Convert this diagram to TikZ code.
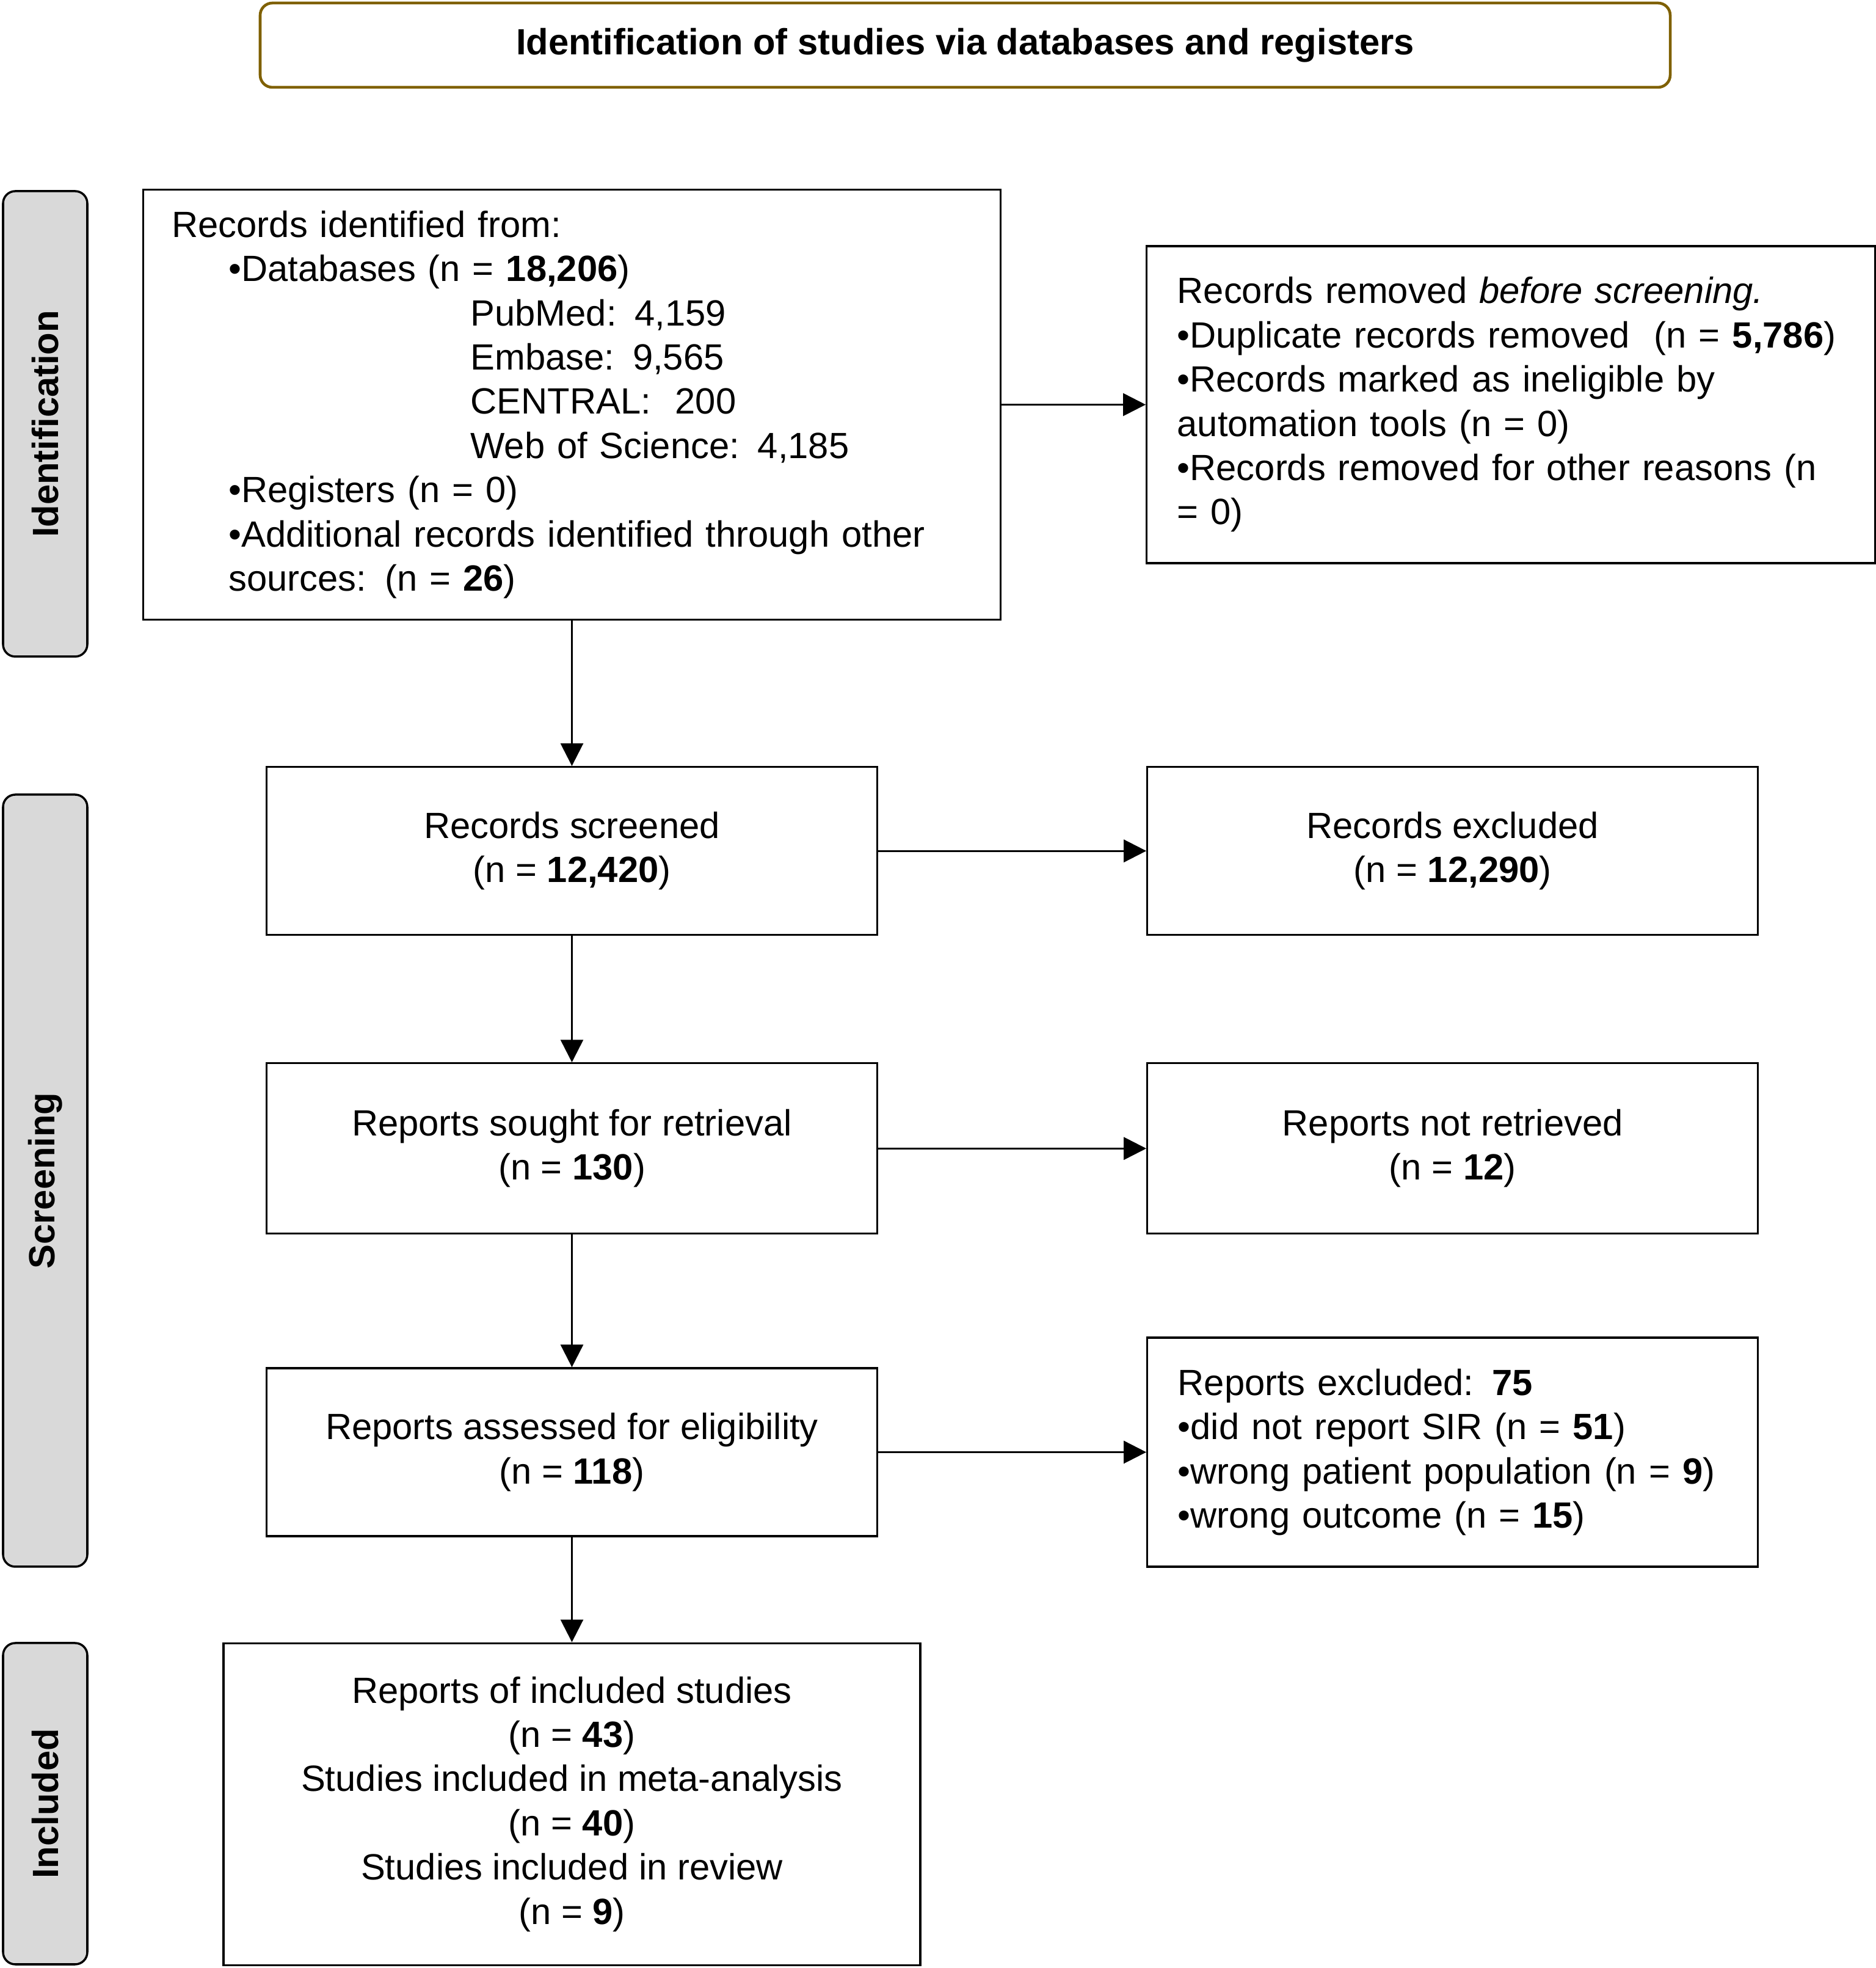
\documentclass[tikz,border=0pt]{standalone}
\usepackage{fontspec}
\setmainfont{Liberation Sans}
\usetikzlibrary{arrows.meta, positioning}
\definecolor{headerbrown}{RGB}{127,96,0}
\definecolor{stagegrey}{RGB}{217,217,217}
\newcommand*{\bodyfont}{\fontsize{17}{20.6}\selectfont}
\tikzstyle{block} = [draw, rectangle, line width=0.9pt, inner sep=0pt, font=\bodyfont]
\tikzstyle{box} = [block, minimum width=10.0cm, minimum height=2.75cm, align=center]
\tikzstyle{listbox} = [block, align=left, inner xsep=0.5cm]
\tikzstyle{stage} = [draw, line width=1pt, rectangle, rounded corners=0.2cm, fill=stagegrey, minimum height=1.38cm, rotate=90, font=\bodyfont\bfseries]
\tikzstyle{header} = [draw=headerbrown, line width=1.3pt, rectangle, rounded corners=0.2cm, minimum width=23.09cm, minimum height=1.38cm, font=\bodyfont\bfseries]
\tikzstyle{flow} = [-{Triangle[length=10.5pt, width=10.5pt]}, line width=0.8pt]

\begin{document}
\begin{tikzpicture}
    \useasboundingbox (0,0) rectangle (30.71,32.22);

    \node (title) [header] at (15.805,31.48) {Identification of studies via databases and registers};

    % Phase bars.
    \node (identstage) [stage, minimum width=7.62cm] at (0.74,25.28) {Identification};
    \node (screenstage) [stage, minimum width=12.64cm] at (0.74,12.89) {Screening};
    \node (inclstage) [stage, minimum width=5.26cm] at (0.74,2.69) {Included};

    % Left column.
    \node (ident) [listbox, inner xsep=0.47cm, text width=13.1cm, minimum height=7.04cm] at (9.365,25.595) {Records identified from:\\
        \hspace*{0.93cm}•Databases (n = \textbf{18,206})\\
        \hspace*{4.89cm}PubMed: 4,159\\
        \hspace*{4.89cm}Embase: 9,565\\
        \hspace*{4.89cm}CENTRAL:\ \ 200\\
        \hspace*{4.89cm}Web of Science: 4,185\\
        \hspace*{0.93cm}•Registers (n = 0)\\
        \hspace*{0.93cm}•Additional records identified through other\\
        \hspace*{0.93cm}sources: (n = \textbf{26})};
    \node (screened) [box, below=2.38cm of ident] {Records screened\\(n = \textbf{12,420})};
    \node (sought) [box, minimum height=2.79cm, below=2.07cm of screened] {Reports sought for retrieval\\(n = \textbf{130})};
    \node (assessed) [box, below=2.17cm of sought] {Reports assessed for eligibility\\(n = \textbf{118})};
    \node (included) [box, minimum width=11.41cm, minimum height=5.27cm, below=1.72cm of assessed] {Reports of included studies\\(n = \textbf{43})\\
        Studies included in meta-analysis\\(n = \textbf{40})\\
        Studies included in review\\(n = \textbf{9})};

    % Right column.
    \node (removed) [listbox, text width=10.93cm, minimum height=5.19cm, right=2.36cm of ident] {Records removed \textit{before screening.}\\
        •Duplicate records removed\ \ (n = \textbf{5,786})\\
        •Records marked as ineligible by\\
        automation tools (n = 0)\\
        •Records removed for other reasons (n\\
        = 0)};
    \node (excluded) [box, right=4.39cm of screened] {Records excluded\\(n = \textbf{12,290})};
    \node (notfound) [box, minimum height=2.79cm, right=4.39cm of sought] {Reports not retrieved\\(n = \textbf{12})};
    \node (reasons) [listbox, text width=9.0cm, minimum height=3.75cm, right=4.39cm of assessed] {Reports excluded: \textbf{75}\\
        •did not report SIR (n = \textbf{51})\\
        •wrong patient population (n = \textbf{9})\\
        •wrong outcome (n = \textbf{15})};

    % Arrows.
    \draw [flow] (ident) -- (screened);
    \draw [flow] (screened) -- (sought);
    \draw [flow] (sought) -- (assessed);
    \draw [flow] (assessed) -- (included);
    \draw [flow] (ident) -- (removed);
    \draw [flow] (screened) -- (excluded);
    \draw [flow] (sought) -- (notfound);
    \draw [flow] (assessed) -- (reasons);
\end{tikzpicture}
\end{document}
